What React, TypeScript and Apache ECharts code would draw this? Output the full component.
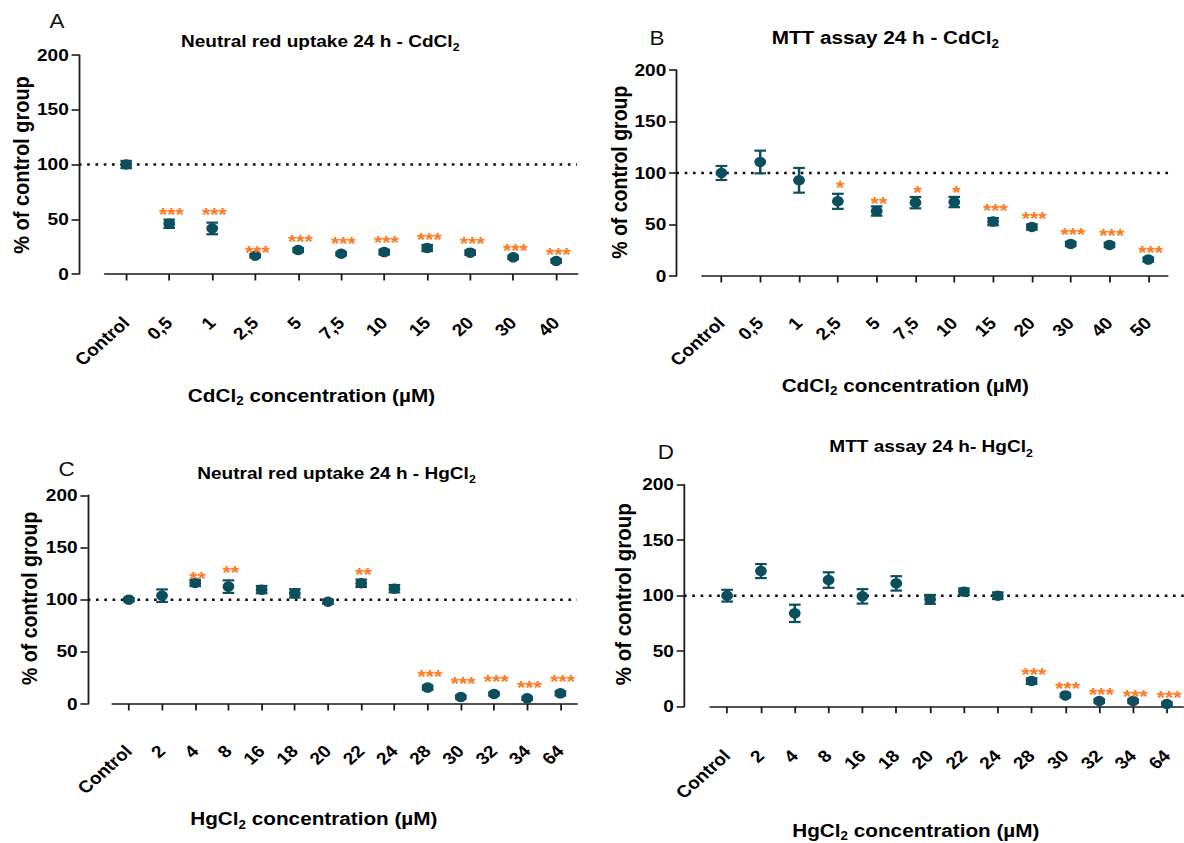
import React, { useEffect, useRef } from "react";
import * as echarts from "echarts";

// ---------- data ----------
const catsCdNR = ["Control", "0,5", "1", "2,5", "5", "7,5", "10", "15", "20", "30", "40"];
const meanCdNR = [100, 45.9, 41.6, 16.7, 21.9, 18.5, 20, 23.7, 19.5, 15.2, 11.9];
const semCdNR = [3.3, 3.8, 5.3, 1.5, 1.8, 1.5, 2.2, 2.8, 2, 1.5, 1.5];
const starsCdNR = ["", "***", "***", "***", "***", "***", "***", "***", "***", "***", "***"];
const starPosCdNR = [0, 58.7, 58.7, 23.7, 34.0, 32.2, 33.4, 35.9, 32.2, 25.8, 21.6];

const catsCdMTT = ["Control", "0,5", "1", "2,5", "5", "7,5", "10", "15", "20", "30", "40", "50"];
const meanCdMTT = [100, 110.7, 92.9, 72.5, 63.1, 71.2, 71.8, 52.8, 47.6, 31.1, 30.1, 15.9];
const semCdMTT = [6.8, 11, 12, 7.3, 4.5, 5.5, 5, 3.5, 2.5, 2, 2, 2];
const starsCdMTT = ["", "", "", "*", "**", "*", "*", "***", "***", "***", "***", "***"];
const starPosCdMTT = [0, 0, 0, 90.6, 74.4, 85.8, 85.8, 68.3, 60.5, 44.7, 44.0, 27.2];

const catsHg = ["Control", "2", "4", "8", "16", "18", "20", "22", "24", "28", "30", "32", "34", "64"];
const meanHgNR = [100, 103.8, 116, 112.5, 109.6, 106, 98, 115.7, 110.5, 15.7, 6.7, 9.6, 5.4, 10.2];
const semHgNR = [1.5, 6, 3, 6, 3.5, 4, 2, 3.5, 3.5, 2, 1.5, 1.5, 1.5, 2];
const starsHgNR = ["", "", "**", "**", "", "", "", "**", "", "***", "***", "***", "***", "***"];
const starPosHgNR = [0, 0, 124.6, 130.7, 0, 0, 0, 128.8, 0, 30.4, 23.6, 25.6, 20.4, 25.6];

const meanHgMTT = [100, 122.2, 84.1, 114.1, 99.4, 111.1, 96.7, 103.6, 100, 23.1, 10.2, 5.1, 5.1, 2.4];
const semHgMTT = [5.3, 6.3, 7.8, 7, 6.5, 6.5, 4, 3, 3, 2.5, 1.5, 1.5, 1.5, 1.5];
const starsHgMTT = ["", "", "", "", "", "", "", "", "", "***", "***", "***", "***", "***"];
const starPosHgMTT = [0, 0, 0, 0, 0, 0, 0, 0, 0, 33, 20.1, 15, 13.5, 12];

const yMin = 0;
const yMax = 200;
const yStep = 50;
const refLine = 100;

// ---------- styling / layout ----------
const STRETCH = 1.12; // the reference is horizontally stretched
const W = 1184 / STRETCH;
const H = 843;
const FONT = "'Liberation Sans', Arial, Helvetica, sans-serif";
const TEAL = "#0b4f5e";
const ORANGE = "#ff7a21";
const AX = "#1a1a1a";

const panels = [
  {
    cats: catsCdNR, mean: meanCdNR, sem: semCdNR, stars: starsCdNR, starPos: starPosCdNR,
    gl: 93.5, gw: 422.3, gt: 55, gh: 219, yOff: 23.1, xOff: 25, dl: 70.4, dr: 515.2,
    title: "Neutral red uptake 24 h - CdCl", tX: 285.9, tY: 41, tF: 17,
    letter: "A", lX: 50.9, lY: 20.5,
    xt: "CdCl", xtRest: " concentration (µM)", xtX: 278.1, xtY: 395,
    ytX: 18.9, ytY: 165, ytF: 20,
  },
  {
    cats: catsCdMTT, mean: meanCdMTT, sem: semCdMTT, stars: starsCdMTT, starPos: starPosCdMTT,
    gl: 626.8, gw: 415.8, gt: 70, gh: 206, yOff: 22.9, xOff: 23.3, dl: 603.9, dr: 1043.5,
    title: "MTT assay 24 h - CdCl", tX: 790.4, tY: 37.5, tF: 18.5,
    letter: "B", lX: 586.5, lY: 38.3,
    xt: "CdCl", xtRest: " concentration (µM)", xtX: 808.3, xtY: 385,
    ytX: 553.1, ytY: 172.2, ytF: 19.5,
  },
  {
    cats: catsHg, mean: meanHgNR, sem: semHgNR, stars: starsHgNR, starPos: starPosHgNR,
    gl: 100.2, gw: 415, gt: 495.3, gh: 208.7, yOff: 21.9, xOff: 23.3, dl: 78.3, dr: 515.2,
    title: "Neutral red uptake 24 h - HgCl", tX: 300.4, tY: 473, tF: 17,
    letter: "C", lX: 59.4, lY: 469,
    xt: "HgCl", xtRest: " concentration (µM)", xtX: 280.2, xtY: 818.3,
    ytX: 25.8, ytY: 598.3, ytF: 19.5,
  },
  {
    cats: catsHg, mean: meanHgMTT, sem: semHgMTT, stars: starsHgMTT, starPos: starPosHgMTT,
    gl: 634.1, gw: 422.9, gt: 484.7, gh: 222, yOff: 23.4, xOff: 25.3, dl: 610.7, dr: W,
    title: "MTT assay 24 h- HgCl", tX: 831.3, tY: 446.5, tF: 17,
    letter: "D", lX: 594.5, lY: 452.2,
    xt: "HgCl", xtRest: " concentration (µM)", xtX: 817.7, xtY: 830,
    ytX: 556.5, ytY: 594.2, ytF: 20.5,
  },
];

function subRich(size: number) {
  return {
    t: { fontSize: size, fontWeight: "bold", fontFamily: FONT, fill: "#000", color: "#000", lineHeight: size + 6 },
    s: {
      fontSize: Math.round(size * 0.65),
      fontWeight: "bold",
      fontFamily: FONT,
      fill: "#000",
      color: "#000",
      lineHeight: Math.round(size * 0.5),
      verticalAlign: "bottom",
    },
  };
}

function buildOption() {
  const grid: any[] = [];
  const xAxis: any[] = [];
  const yAxis: any[] = [];
  const series: any[] = [];
  const graphic: any[] = [];
  const n = panels.length;

  panels.forEach((p, k) => {
    grid[k] = { left: p.gl, top: p.gt, width: p.gw, height: p.gh, outerBoundsMode: "none", containLabel: false };
    grid[n + k] = { left: p.dl, top: p.gt, width: p.dr - p.dl, height: p.gh, outerBoundsMode: "none", containLabel: false };

    xAxis[k] = {
      type: "category",
      gridIndex: k,
      data: p.cats,
      boundaryGap: true,
      offset: p.xOff,
      axisLine: { show: true, lineStyle: { color: AX, width: 1.6 } },
      axisTick: { show: true, alignWithLabel: true, length: 6.5, lineStyle: { color: AX, width: 1.6 } },
      axisLabel: {
        show: true,
        interval: 0,
        rotate: 45,
        margin: 21,
        color: "#000",
        fontFamily: FONT,
        fontWeight: "bold",
        fontSize: 17,
      },
      splitLine: { show: false },
    };
    xAxis[n + k] = { type: "value", gridIndex: n + k, min: 0, max: 1, show: false };

    yAxis[k] = {
      type: "value",
      gridIndex: k,
      min: yMin,
      max: yMax,
      interval: yStep,
      offset: p.yOff,
      axisLine: { show: true, lineStyle: { color: AX, width: 1.6 } },
      axisTick: { show: true, length: 6.5, lineStyle: { color: AX, width: 1.6 } },
      axisLabel: { show: true, margin: 9, color: "#000", fontFamily: FONT, fontWeight: "bold", fontSize: 17 },
      splitLine: { show: false },
    };
    yAxis[n + k] = { type: "value", gridIndex: n + k, min: yMin, max: yMax, show: false };

    // reference line at 100 %
    series.push({
      type: "line",
      xAxisIndex: n + k,
      yAxisIndex: n + k,
      data: [
        [0, refLine],
        [1, refLine],
      ],
      symbol: "none",
      silent: true,
      z: 1,
      lineStyle: { color: "#111", width: 2.5, type: [2.4, 5] },
    });

    // error bars
    const sem = p.sem;
    series.push({
      type: "custom",
      xAxisIndex: k,
      yAxisIndex: k,
      z: 2,
      silent: true,
      data: p.mean.map((m, i) => [i, m, sem[i]]),
      encode: { x: 0, y: 1 },
      renderItem: (params: any, api: any) => {
        const i = api.value(0);
        const m = api.value(1);
        const e = api.value(2);
        const a = api.coord([i, m + e]);
        const b = api.coord([i, m - e]);
        const hw = 5.2;
        const st = { stroke: TEAL, lineWidth: 2.2 };
        return {
          type: "group",
          children: [
            { type: "line", shape: { x1: a[0], y1: a[1], x2: b[0], y2: b[1] }, style: st },
            { type: "line", shape: { x1: a[0] - hw, y1: a[1], x2: a[0] + hw, y2: a[1] }, style: st },
            { type: "line", shape: { x1: b[0] - hw, y1: b[1], x2: b[0] + hw, y2: b[1] }, style: st },
          ],
        };
      },
    });

    // mean markers
    series.push({
      type: "scatter",
      xAxisIndex: k,
      yAxisIndex: k,
      z: 3,
      symbol: "circle",
      symbolSize: 10.5,
      itemStyle: { color: TEAL, opacity: 1 },
      data: p.mean,
    });

    // significance asterisks
    const starTexts = p.stars;
    series.push({
      type: "custom",
      xAxisIndex: k,
      yAxisIndex: k,
      z: 4,
      silent: true,
      data: p.starPos.map((v, i) => [i, v]).filter((d) => starTexts[d[0]] !== ""),
      encode: { x: 0, y: 1 },
      renderItem: (params: any, api: any) => {
        const i = api.value(0);
        const c = api.coord([i, api.value(1)]);
        return {
          type: "text",
          x: c[0] + 2,
          y: c[1] + 4.5,
          style: {
            text: starTexts[i],
            fill: ORANGE,
            fontSize: 19,
            fontWeight: "bold",
            fontFamily: FONT,
            align: "center",
            verticalAlign: "middle",
            textAlign: "center",
            textVerticalAlign: "middle",
          },
        };
      },
    });

    // panel texts
    graphic.push({
      type: "text",
      x: p.tX,
      y: p.tY,
      style: {
        text: `{t|${p.title}}{s|2}`,
        rich: subRich(p.tF),
        align: "center",
        verticalAlign: "middle",
      },
    });
    graphic.push({
      type: "text",
      x: p.lX,
      y: p.lY,
      style: { text: p.letter, fill: "#111", fontSize: 20, fontFamily: FONT, align: "center", verticalAlign: "middle" },
    });
    graphic.push({
      type: "text",
      x: p.xtX,
      y: p.xtY,
      style: {
        text: `{t|${p.xt}}{s|2}{t|${p.xtRest}}`,
        rich: subRich(18.5),
        align: "center",
        verticalAlign: "middle",
      },
    });
    graphic.push({
      type: "text",
      x: p.ytX,
      y: p.ytY,
      rotation: Math.PI / 2,
      style: {
        text: "% of control group",
        fill: "#000",
        fontSize: p.ytF,
        fontWeight: "bold",
        fontFamily: FONT,
        align: "center",
        verticalAlign: "middle",
      },
    });
  });

  return {
    animation: false,
    backgroundColor: "#ffffff",
    grid,
    xAxis,
    yAxis,
    series,
    graphic,
  };
}

export default function App() {
  const ref = useRef<HTMLDivElement>(null);
  useEffect(() => {
    if (!ref.current) return;
    const chart = echarts.init(ref.current, null, { renderer: "svg" });
    chart.setOption(buildOption() as any);
    return () => chart.dispose();
  }, []);
  return (
    <div
      style={{
        position: "fixed",
        left: 0,
        top: 0,
        width: 1184,
        height: H,
        overflow: "hidden",
        background: "#fff",
      }}
    >
      <div
        ref={ref}
        style={{
          width: W,
          height: H,
          transform: `scaleX(${STRETCH})`,
          transformOrigin: "0 0",
        }}
      />
    </div>
  );
}
